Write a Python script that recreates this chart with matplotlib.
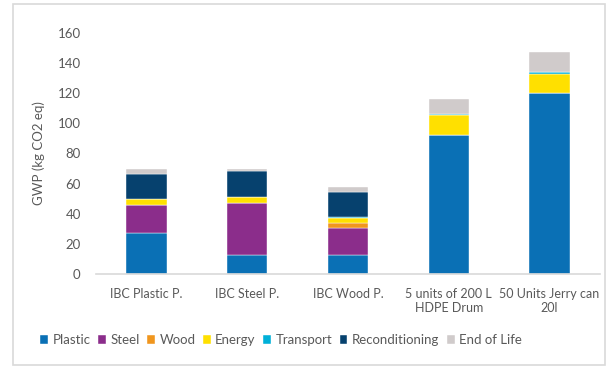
import numpy as np
import matplotlib.pyplot as plt
from matplotlib.patches import Rectangle

plt.rcParams['font.family'] = ['Lato', 'DejaVu Sans']

categories = ['IBC Plastic P.', 'IBC Steel P.', 'IBC Wood P.',
              '5 units of 200 L\nHDPE Drum', '50 Units Jerry can\n20l']
series = ['Plastic', 'Steel', 'Wood', 'Energy', 'Transport', 'Reconditioning', 'End of Life']
plastic = [27.0, 12.4, 12.4, 92.3, 120.0]
steel = [18.6, 35.0, 18.4, 0, 0]
wood = [0, 0, 3.1, 0, 0]
energy = [4.0, 3.5, 3.1, 13.1, 12.6]
transport = [0.5, 0.4, 0.6, 0.8, 1.7]
reconditioning = [16.4, 17.0, 16.6, 0, 0]
end_of_life = [3.3, 1.5, 3.4, 10.0, 12.9]
colors = ['#0A70B5', '#8B2D8B', '#F0961E', '#FFE000', '#00B0D8', '#06416E', '#D0CBCB']

values = [plastic, steel, wood, energy, transport, reconditioning, end_of_life]

fig = plt.figure(figsize=(6.09, 3.69), dpi=100)
ax = fig.add_axes([96 / 609, 1 - 274 / 369, 504 / 609, 241 / 369])

x = np.arange(len(categories))
bottom = np.zeros(len(categories))
for name, vals, c in zip(series, values, colors):
    ax.bar(x, vals, 0.4, bottom=bottom, color=c, label=name,
           edgecolor='white', linewidth=0.3)
    bottom += np.array(vals)

ax.set_xlim(-0.5, len(categories) - 0.5)
ax.set_ylim(0, 160)
ax.set_yticks(range(0, 161, 20))
ax.set_xticks(x)
ax.set_xticklabels(categories)
ax.tick_params(length=0, colors='#595959', labelsize=9)
ax.tick_params(axis='y', labelsize=9.5, pad=11)
ax.tick_params(axis='x', pad=10)
for s in ['top', 'right', 'left']:
    ax.spines[s].set_visible(False)
ax.spines['bottom'].set_color('#D9D9D9')
ax.spines['bottom'].set_linewidth(1.2)
ax.set_ylabel('GWP (kg CO2 eq)', color='#595959', fontsize=9.5, labelpad=9)

fig.legend(loc='center', bbox_to_anchor=(281 / 609, 1 - 340 / 369), ncol=7,
           frameon=False, fontsize=9.5, labelcolor='#595959',
           handlelength=0.6, handleheight=0.6, handletextpad=0.35,
           columnspacing=0.55)

fig.patches.append(Rectangle((13 / 609, 4 / 369), 592 / 609, 361 / 369,
                             transform=fig.transFigure, fill=False,
                             edgecolor='#D9D9D9', linewidth=1.2))

fig.savefig('out.png', dpi=100)
